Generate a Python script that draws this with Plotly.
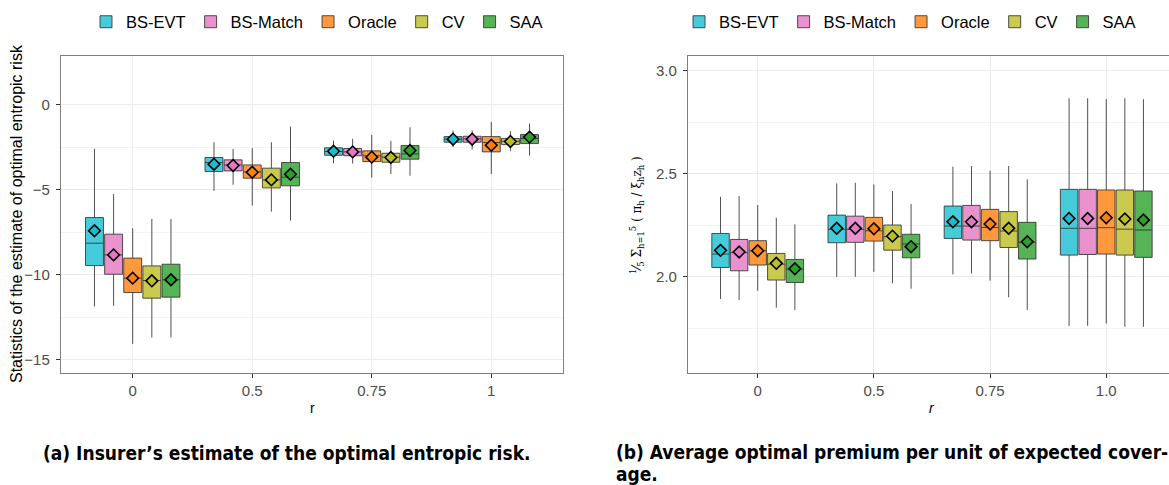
import plotly.graph_objects as go

# ---------------- data ----------------
methods = ["BS-EVT", "BS-Match", "Oracle", "CV", "SAA"]
colors = ["#17becf", "#e377c2", "#ff7f0e", "#bcbd22", "#2ca02c"]
r_labels_a = ["0", "0.5", "0.75", "1"]
r_labels_b = ["0", "0.5", "0.75", "1.0"]

# Panel (a): rows = methods, columns = r
a_upper = [[-2.59, -2.20, -2.10, -1.51],
           [-5.26, -2.59, -2.00, -1.51],
           [-7.27, -2.55, -1.77, -1.00],
           [-6.72, -2.20, -2.12, -1.55],
           [-6.72, -1.28, -1.32, -1.10]]
a_q3 = [[-6.64, -3.10, -2.53, -1.87],
        [-7.62, -3.24, -2.57, -1.85],
        [-9.03, -3.54, -2.71, -1.87],
        [-9.49, -3.73, -2.85, -1.98],
        [-9.39, -3.40, -2.40, -1.75]]
a_median = [[-8.15, -3.40, -2.75, -2.02],
            [-8.84, -3.54, -2.77, -2.00],
            [-10.21, -3.95, -3.00, -2.22],
            [-10.35, -4.42, -3.08, -2.14],
            [-10.31, -4.26, -2.89, -1.98]]
a_q1 = [[-9.47, -3.93, -2.97, -2.20],
        [-9.98, -3.89, -3.00, -2.20],
        [-11.06, -4.32, -3.34, -2.77],
        [-11.39, -4.89, -3.38, -2.34],
        [-11.33, -4.77, -3.20, -2.28]]
a_lower = [[-11.88, -5.07, -3.44, -2.49],
           [-11.84, -4.71, -3.46, -2.63],
           [-14.08, -5.93, -4.28, -4.07],
           [-13.71, -6.29, -4.08, -2.73],
           [-13.71, -6.82, -4.18, -2.99]]
a_mean = [[-7.42, -3.50, -2.73, -2.02],
          [-8.84, -3.57, -2.77, -2.02],
          [-10.21, -3.97, -3.08, -2.38],
          [-10.37, -4.42, -3.10, -2.16],
          [-10.31, -4.09, -2.69, -1.90]]

# Panel (b)
b_upper = [[2.388, 2.453, 2.534, 2.866],
           [2.392, 2.456, 2.537, 2.866],
           [2.348, 2.448, 2.515, 2.862],
           [2.286, 2.416, 2.537, 2.866],
           [2.254, 2.353, 2.472, 2.861]]
b_q3 = [[2.210, 2.299, 2.343, 2.424],
        [2.181, 2.294, 2.346, 2.424],
        [2.175, 2.288, 2.327, 2.421],
        [2.113, 2.251, 2.316, 2.421],
        [2.084, 2.206, 2.264, 2.416]]
b_median = [[2.110, 2.230, 2.246, 2.235],
            [2.117, 2.230, 2.246, 2.235],
            [2.126, 2.223, 2.239, 2.238],
            [2.061, 2.194, 2.222, 2.231],
            [2.037, 2.159, 2.167, 2.227]]
b_q1 = [[2.045, 2.165, 2.186, 2.105],
        [2.029, 2.167, 2.178, 2.108],
        [2.057, 2.173, 2.175, 2.110],
        [1.984, 2.129, 2.142, 2.105],
        [1.972, 2.092, 2.086, 2.094]]
b_lower = [[1.892, 2.000, 2.011, 1.761],
           [1.887, 2.000, 2.016, 1.762],
           [1.932, 2.024, 1.981, 1.773],
           [1.850, 1.968, 1.900, 1.757],
           [1.838, 1.942, 1.838, 1.757]]
b_mean = [[2.128, 2.235, 2.267, 2.283],
          [2.120, 2.235, 2.267, 2.283],
          [2.126, 2.233, 2.256, 2.286],
          [2.065, 2.197, 2.235, 2.280],
          [2.039, 2.146, 2.170, 2.275]]

# ---------------- figure ----------------
W, H = 1169, 485
SLOT = 0.16
BOXW = 0.15
FONT = "Liberation Sans, Arial, sans-serif"
CAPFONT = "Liberation Sans Narrow, DejaVu Sans Condensed, Liberation Sans, sans-serif"


def hex_rgba(h, a):
    h = h.lstrip("#")
    return "rgba(%d,%d,%d,%.2f)" % (int(h[0:2], 16), int(h[2:4], 16), int(h[4:6], 16), a)


fig = go.Figure()


def add_panel(lower, q1, med, q3, upper, mean, xa, ya, legend):
    n_r = len(med[0])
    for j, m in enumerate(methods):
        xs = [i + (j - (len(methods) - 1) / 2) * SLOT for i in range(n_r)]
        fig.add_trace(go.Box(
            x=xs, q1=q1[j], median=med[j], q3=q3[j],
            lowerfence=lower[j], upperfence=upper[j],
            name=m, width=BOXW, whiskerwidth=0,
            fillcolor=hex_rgba(colors[j], 0.8),
            line=dict(color="rgba(51,51,51,0.85)", width=1),
            xaxis=xa, yaxis=ya, legend=legend, legendgroup=legend + m,
            hoverinfo="skip",
        ))
        fig.add_trace(go.Scatter(
            x=xs, y=mean[j], mode="markers",
            marker=dict(symbol="diamond", size=9, color=colors[j],
                        line=dict(color="black", width=1.6)),
            xaxis=xa, yaxis=ya, showlegend=False, legendgroup=legend + m,
            hoverinfo="skip",
        ))


add_panel(a_lower, a_q1, a_median, a_q3, a_upper, a_mean, "x", "y", "legend")
add_panel(b_lower, b_q1, b_median, b_q3, b_upper, b_mean, "x2", "y2", "legend2")

ydom = [1 - 373 / H, 1 - 56 / H]
axis_common = dict(
    showgrid=True, gridcolor="#EBEBEB", gridwidth=1.1,
    showline=True, linecolor="#7F7F7F", linewidth=1.4,
    ticks="outside", ticklen=4, tickcolor="#333333", tickwidth=1,
    tickfont=dict(family=FONT, size=15, color="#4D4D4D"),
    zeroline=False,
)
xaxis_common = dict(axis_common, ticklabelstandoff=0)
yaxis_common = dict(axis_common, ticklabelstandoff=3)

legend_common = dict(orientation="h", xanchor="center",
                     y=1 - 22 / H, yanchor="middle",
                     font=dict(family=FONT, size=16.5, color="black"),
                     bgcolor="rgba(0,0,0,0)", itemwidth=30)

fig.update_layout(
    width=W, height=H,
    margin=dict(l=0, r=0, t=0, b=0),
    paper_bgcolor="white", plot_bgcolor="white",
    font=dict(family=FONT, color="black"),
    xaxis=dict(domain=[61 / W, 563 / W], range=[-0.6, 3.6],
               tickvals=list(range(len(r_labels_a))), ticktext=r_labels_a,
               mirror=True, anchor="y", **xaxis_common),
    yaxis=dict(domain=ydom, range=[-15.8, 2.88], tickvals=[-15, -10, -5, 0],
               mirror=True, anchor="x",
               minor=dict(tickvals=[-12.5, -7.5, -2.5], showgrid=True,
                          gridcolor="#F3F3F3", gridwidth=0.6, ticks=""),
               **yaxis_common),
    xaxis2=dict(domain=[688 / W, 1.0], range=[-0.6, 3.54],
                tickvals=list(range(len(r_labels_b))), ticktext=r_labels_b,
                mirror=True, anchor="y2", **xaxis_common),
    yaxis2=dict(domain=ydom, range=[1.533, 3.071], tickvals=[2.0, 2.5, 3.0],
                tickformat=".1f", mirror=False, anchor="x2",
                minor=dict(tickvals=[1.75, 2.25, 2.75], showgrid=True,
                           gridcolor="#F3F3F3", gridwidth=0.6, ticks=""),
                **yaxis_common),
    legend=dict(x=317 / W, **legend_common),
    legend2=dict(x=910 / W, **legend_common),
    showlegend=True,
)

ann = [
    dict(text="Statistics of the estimate of optimal entropic risk",
         x=16 / W, y=1 - 214 / H, textangle=-90, xanchor="center",
         font=dict(family=FONT, size=16, color="black")),
    dict(text="r", x=312 / W, y=1 - 408 / H, xanchor="center",
         font=dict(family=FONT, size=14, color="black")),
    dict(text="<i>r</i>", x=932 / W, y=1 - 408 / H, xanchor="center",
         font=dict(family=FONT, size=14, color="black")),
    dict(text="<sup>1</sup>⁄<sub>5</sub> Σ<sub>h=1</sub><sup>5</sup> ( π<sub>h</sub> / ξ<sub>h</sub>z<sub>h</sub> )",
         x=637 / W, y=1 - 215 / H, textangle=-90, xanchor="center",
         font=dict(family="DejaVu Serif, serif", size=12, color="black")),
    dict(text="<b>(a) Insurer’s estimate of the optimal entropic risk.</b>",
         x=41 / W, y=1 - 453 / H, xanchor="left",
         font=dict(family=CAPFONT, size=19, color="black")),
    dict(text="<b>(b) Average optimal premium per unit of expected cover-</b>",
         x=614 / W, y=1 - 452 / H, xanchor="left",
         font=dict(family=CAPFONT, size=19, color="black")),
    dict(text="<b>age.</b>",
         x=614 / W, y=1 - 474 / H, xanchor="left",
         font=dict(family=CAPFONT, size=19, color="black")),
]
for a in ann:
    a.update(xref="paper", yref="paper", showarrow=False, yanchor="middle")
fig.update_layout(annotations=ann)

fig.write_html("out.html")
